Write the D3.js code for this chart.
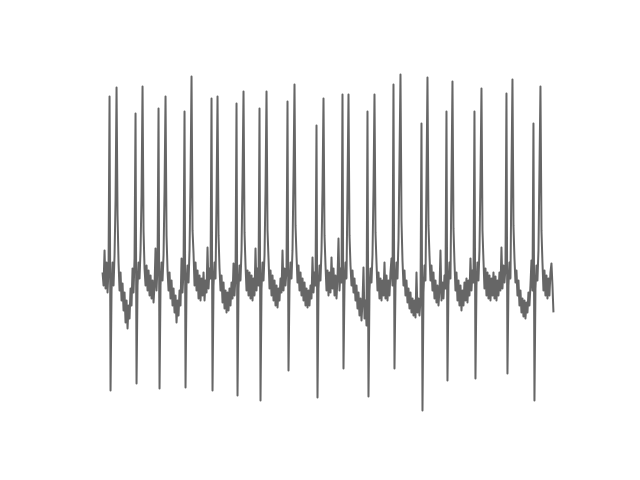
<!DOCTYPE html>
<html>
<head>
<meta charset="utf-8">
<script src="https://cdn.jsdelivr.net/npm/d3@7"></script>
<style>
  html, body { margin: 0; padding: 0; background: #ffffff; }
  svg { display: block; }
</style>
</head>
<body>
<svg id="chart" width="640" height="480"></svg>
<script>
// ECG trace, one sample per step (amplitude in arbitrary units)
const ecg = [
  8, -5, 30, -8, 18, -12, 12,
  184, -110, -10, 18, -5, 25, 80, 193, 65, 18,
  -10, 8, -20, -3, -30, -12, -42, -20, -48, -25, -38, -8, -25, 12, -12, 22,
  167, -103, -5, 18, 2, 30, 85, 194, 50, 12,
  -5, 15, -10, 10, -15, 5, -18, 0, -22, -5, 32, -10, 15,
  172, -108, -5, 18, 0, 25, 90, 184, 45, 10,
  -10, 8, -18, 0, -25, -8, -32, -15, -42, -20, -35, -10, -25, 22, -12, 10,
  169, -107, -5, 15, -2, 30, 100, 204, 50, 27,
  -5, 18, -10, 10, -18, 5, -20, 2, -15, 8, -20, 0, -12, 33, -8, 12, 2,
  182, -110, -5, 18, 2, 80, 184, 45, 12,
  -10, 5, -22, -2, -28, -10, -32, -12, -30, -8, -25, -2, -18, 17, -15, 5,
  177, -115, -8, 15, 0, 30, 100, 189, 48, 15,
  -10, 10, -15, 8, -18, 5, -20, 2, -15, 32, -10, 12, -5,
  172, -120, -8, 18, 0, 25, 90, 189, 50, 22,
  -8, 10, -15, 5, -20, 0, -25, -5, -27, -8, -20, 2, -12, 30, -10, 12, -5, 10,
  179, -90, -5, 18, 2, 30, 105, 196, 55, 25,
  -2, 15, -10, 8, -15, 2, -20, -2, -25, -8, -27, -10, -25, -5, -18, 23, -12, 8, -5,
  155, -117, -8, 15, 0, 30, 90, 182, 45, 15,
  -10, 10, -15, 8, -12, 23, -8, 12, -15, 5, -18, 2, 42, -10, 12, -2,
  186, -88, -5, 18, 2, 90, 186, 45, 15,
  -5, 10, -12, 2, -20, -5, -28, -12, -35, -18, -40, -22, 13, -38, -20, -45,
  169, -116, -10, 12, -2, 25, 90, 186, 48, 18,
  -10, 8, -18, 2, -20, 0, -15, 18, -18, 5, -20, 0, -15, 8, 22, -5,
  196, -88, -5, 18, 2, 40, 120, 206, 60, 20,
  -5, 10, -15, 0, -22, -8, -28, -12, -32, -18, -35, -20, -37, 8, -32, -18, -35, -20,
  157, -130, -12, 15, 0, 100, 203, 55, 25,
  0, 15, -10, 8, -18, 0, -22, -5, -25, -10, 30, -20, -2, -18, 5, -8,
  169, -100, -5, 18, 2, 100, 199, 52, 18,
  -10, 8, -20, 0, -25, -5, -30, -10, -25, -2, -20, 2, -22, 0, -15, 22, -10, 10, -2,
  169, -98, -5, 18, 0, 30, 100, 192, 50, 20,
  -8, 12, -15, 8, -18, 5, -20, 2, -15, 8, -18, 4, -20, 0, -15, 8, -10, 33, -8, 15, -2, 12,
  187, -93, -5, 18, 2, 105, 201, 55, 22,
  -2, 10, -15, 0, -25, -10, -32, -18, -36, -20, -38, -22, -32, -12, -25, -5, 20, -10,
  157, -120, -8, 15, 0, 30, 110, 194, 50, 18,
  -10, 10, -15, 5, -18, 2, -15, 8, 17, -5, -32
];

const W = 640, H = 480;
// matplotlib-like default axes box
const ax = { left: 80, right: 576, top: 57.6, bottom: 427.2 };

const svg = d3.select("#chart");
svg.append("rect").attr("width", W).attr("height", H).attr("fill", "#ffffff");

const n = ecg.length;
const xPad = (n - 1) * 0.05;
const x = d3.scaleLinear()
  .domain([-xPad, (n - 1) + xPad])
  .range([ax.left, ax.right]);

const [ymin, ymax] = d3.extent(ecg);
const yPad = (ymax - ymin) * 0.05;
const y = d3.scaleLinear()
  .domain([ymin - yPad, ymax + yPad])
  .range([ax.bottom, ax.top]);

const line = d3.line()
  .x((d, i) => x(i))
  .y(d => y(d));

svg.append("path")
  .datum(ecg)
  .attr("d", line)
  .attr("fill", "none")
  .attr("stroke", "#666666")
  .attr("stroke-width", 2)
  .attr("stroke-linejoin", "round")
  .attr("stroke-linecap", "butt");
</script>
</body>
</html>
